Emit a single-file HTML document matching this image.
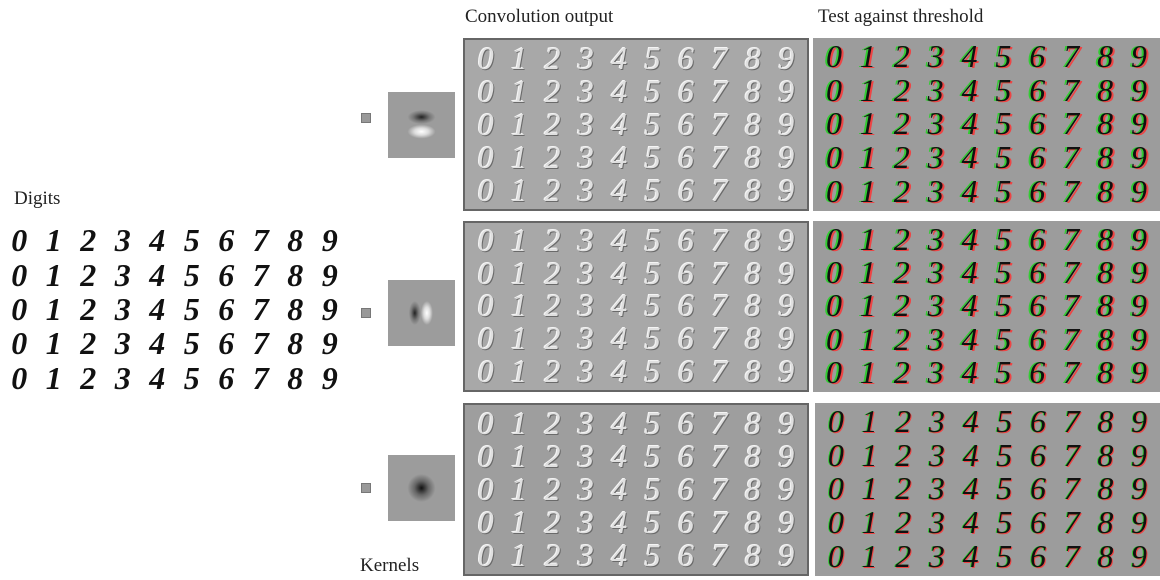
<!DOCTYPE html>
<html><head><meta charset="utf-8"><style>
body{margin:0;width:1160px;height:580px;background:#fff;position:relative;overflow:hidden;font-family:"Liberation Serif",serif}
.t{position:absolute;font-size:19px;color:#222}
.p{position:absolute;box-sizing:border-box;display:flex;flex-direction:column;justify-content:space-around;padding:2px 4px}
.r{display:flex;justify-content:space-around;font-family:"Liberation Serif",serif;font-style:italic;font-size:32px;line-height:30px;height:32px}
.r span{width:30px;text-align:center}
.conv{background:#a8a8a8;border:2px solid #666;color:#e0e0e0;text-shadow:1px 1px 0 #6a6a6a,-1px -1px 0 #f4f4f4}
.thr{background:#9c9c9c;color:#111;text-shadow:-2px 0 0 #3c3,2px 1px 0 #e44}
.dig{color:#111;font-weight:bold;padding:0}
.ks{position:absolute;width:8px;height:8px;background:#999;border:1px solid #777}
.kb{position:absolute;width:67px;height:66px;background:#9c9c9c}
</style></head><body>
<div class="t" style="left:465px;top:6px">Convolution output</div>
<div class="t" style="left:818px;top:6px">Test against threshold</div>
<div class="t" style="left:14px;top:188px">Digits</div>
<div class="t" style="left:360px;top:555px">Kernels</div>

<div class="p dig" style="left:2px;top:224px;width:345px;height:172px">
<div class="r"><span>0</span><span>1</span><span>2</span><span>3</span><span>4</span><span>5</span><span>6</span><span>7</span><span>8</span><span>9</span></div>
<div class="r"><span>0</span><span>1</span><span>2</span><span>3</span><span>4</span><span>5</span><span>6</span><span>7</span><span>8</span><span>9</span></div>
<div class="r"><span>0</span><span>1</span><span>2</span><span>3</span><span>4</span><span>5</span><span>6</span><span>7</span><span>8</span><span>9</span></div>
<div class="r"><span>0</span><span>1</span><span>2</span><span>3</span><span>4</span><span>5</span><span>6</span><span>7</span><span>8</span><span>9</span></div>
<div class="r"><span>0</span><span>1</span><span>2</span><span>3</span><span>4</span><span>5</span><span>6</span><span>7</span><span>8</span><span>9</span></div>
</div>

<div class="ks" style="left:361px;top:113px"></div>
<div class="kb" style="left:388px;top:92px;background:radial-gradient(ellipse 14px 7px at 50% 38%,#222,#777 60%,transparent 100%),radial-gradient(ellipse 14px 7px at 50% 60%,#fff,#ddd 50%,transparent 100%),#9c9c9c"></div>
<div class="ks" style="left:361px;top:308px"></div>
<div class="kb" style="left:388px;top:280px;background:radial-gradient(ellipse 6px 12px at 40% 50%,#222,#777 60%,transparent 100%),radial-gradient(ellipse 6px 12px at 58% 50%,#fff,#ddd 50%,transparent 100%),#9c9c9c"></div>
<div class="ks" style="left:361px;top:483px"></div>
<div class="kb" style="left:388px;top:455px;background:radial-gradient(circle 14px at 50% 50%,#111,#666 50%,#9c9c9c 100%)"></div>

<div class="p conv" style="left:463px;top:38px;width:346px;height:173px">
<div class="r"><span>0</span><span>1</span><span>2</span><span>3</span><span>4</span><span>5</span><span>6</span><span>7</span><span>8</span><span>9</span></div>
<div class="r"><span>0</span><span>1</span><span>2</span><span>3</span><span>4</span><span>5</span><span>6</span><span>7</span><span>8</span><span>9</span></div>
<div class="r"><span>0</span><span>1</span><span>2</span><span>3</span><span>4</span><span>5</span><span>6</span><span>7</span><span>8</span><span>9</span></div>
<div class="r"><span>0</span><span>1</span><span>2</span><span>3</span><span>4</span><span>5</span><span>6</span><span>7</span><span>8</span><span>9</span></div>
<div class="r"><span>0</span><span>1</span><span>2</span><span>3</span><span>4</span><span>5</span><span>6</span><span>7</span><span>8</span><span>9</span></div>
</div>
<div class="p conv" style="left:463px;top:221px;width:346px;height:171px">
<div class="r"><span>0</span><span>1</span><span>2</span><span>3</span><span>4</span><span>5</span><span>6</span><span>7</span><span>8</span><span>9</span></div>
<div class="r"><span>0</span><span>1</span><span>2</span><span>3</span><span>4</span><span>5</span><span>6</span><span>7</span><span>8</span><span>9</span></div>
<div class="r"><span>0</span><span>1</span><span>2</span><span>3</span><span>4</span><span>5</span><span>6</span><span>7</span><span>8</span><span>9</span></div>
<div class="r"><span>0</span><span>1</span><span>2</span><span>3</span><span>4</span><span>5</span><span>6</span><span>7</span><span>8</span><span>9</span></div>
<div class="r"><span>0</span><span>1</span><span>2</span><span>3</span><span>4</span><span>5</span><span>6</span><span>7</span><span>8</span><span>9</span></div>
</div>
<div class="p conv" style="left:463px;top:403px;width:346px;height:173px;background:#9e9e9e">
<div class="r"><span>0</span><span>1</span><span>2</span><span>3</span><span>4</span><span>5</span><span>6</span><span>7</span><span>8</span><span>9</span></div>
<div class="r"><span>0</span><span>1</span><span>2</span><span>3</span><span>4</span><span>5</span><span>6</span><span>7</span><span>8</span><span>9</span></div>
<div class="r"><span>0</span><span>1</span><span>2</span><span>3</span><span>4</span><span>5</span><span>6</span><span>7</span><span>8</span><span>9</span></div>
<div class="r"><span>0</span><span>1</span><span>2</span><span>3</span><span>4</span><span>5</span><span>6</span><span>7</span><span>8</span><span>9</span></div>
<div class="r"><span>0</span><span>1</span><span>2</span><span>3</span><span>4</span><span>5</span><span>6</span><span>7</span><span>8</span><span>9</span></div>
</div>

<div class="p thr" style="left:813px;top:38px;width:347px;height:173px">
<div class="r"><span>0</span><span>1</span><span>2</span><span>3</span><span>4</span><span>5</span><span>6</span><span>7</span><span>8</span><span>9</span></div>
<div class="r"><span>0</span><span>1</span><span>2</span><span>3</span><span>4</span><span>5</span><span>6</span><span>7</span><span>8</span><span>9</span></div>
<div class="r"><span>0</span><span>1</span><span>2</span><span>3</span><span>4</span><span>5</span><span>6</span><span>7</span><span>8</span><span>9</span></div>
<div class="r"><span>0</span><span>1</span><span>2</span><span>3</span><span>4</span><span>5</span><span>6</span><span>7</span><span>8</span><span>9</span></div>
<div class="r"><span>0</span><span>1</span><span>2</span><span>3</span><span>4</span><span>5</span><span>6</span><span>7</span><span>8</span><span>9</span></div>
</div>
<div class="p thr" style="left:813px;top:221px;width:347px;height:171px">
<div class="r"><span>0</span><span>1</span><span>2</span><span>3</span><span>4</span><span>5</span><span>6</span><span>7</span><span>8</span><span>9</span></div>
<div class="r"><span>0</span><span>1</span><span>2</span><span>3</span><span>4</span><span>5</span><span>6</span><span>7</span><span>8</span><span>9</span></div>
<div class="r"><span>0</span><span>1</span><span>2</span><span>3</span><span>4</span><span>5</span><span>6</span><span>7</span><span>8</span><span>9</span></div>
<div class="r"><span>0</span><span>1</span><span>2</span><span>3</span><span>4</span><span>5</span><span>6</span><span>7</span><span>8</span><span>9</span></div>
<div class="r"><span>0</span><span>1</span><span>2</span><span>3</span><span>4</span><span>5</span><span>6</span><span>7</span><span>8</span><span>9</span></div>
</div>
<div class="p thr" style="left:815px;top:403px;width:345px;height:173px;text-shadow:-1px 0 0 #3c3,1px 1px 0 #e44">
<div class="r"><span>0</span><span>1</span><span>2</span><span>3</span><span>4</span><span>5</span><span>6</span><span>7</span><span>8</span><span>9</span></div>
<div class="r"><span>0</span><span>1</span><span>2</span><span>3</span><span>4</span><span>5</span><span>6</span><span>7</span><span>8</span><span>9</span></div>
<div class="r"><span>0</span><span>1</span><span>2</span><span>3</span><span>4</span><span>5</span><span>6</span><span>7</span><span>8</span><span>9</span></div>
<div class="r"><span>0</span><span>1</span><span>2</span><span>3</span><span>4</span><span>5</span><span>6</span><span>7</span><span>8</span><span>9</span></div>
<div class="r"><span>0</span><span>1</span><span>2</span><span>3</span><span>4</span><span>5</span><span>6</span><span>7</span><span>8</span><span>9</span></div>
</div>
</body></html>
